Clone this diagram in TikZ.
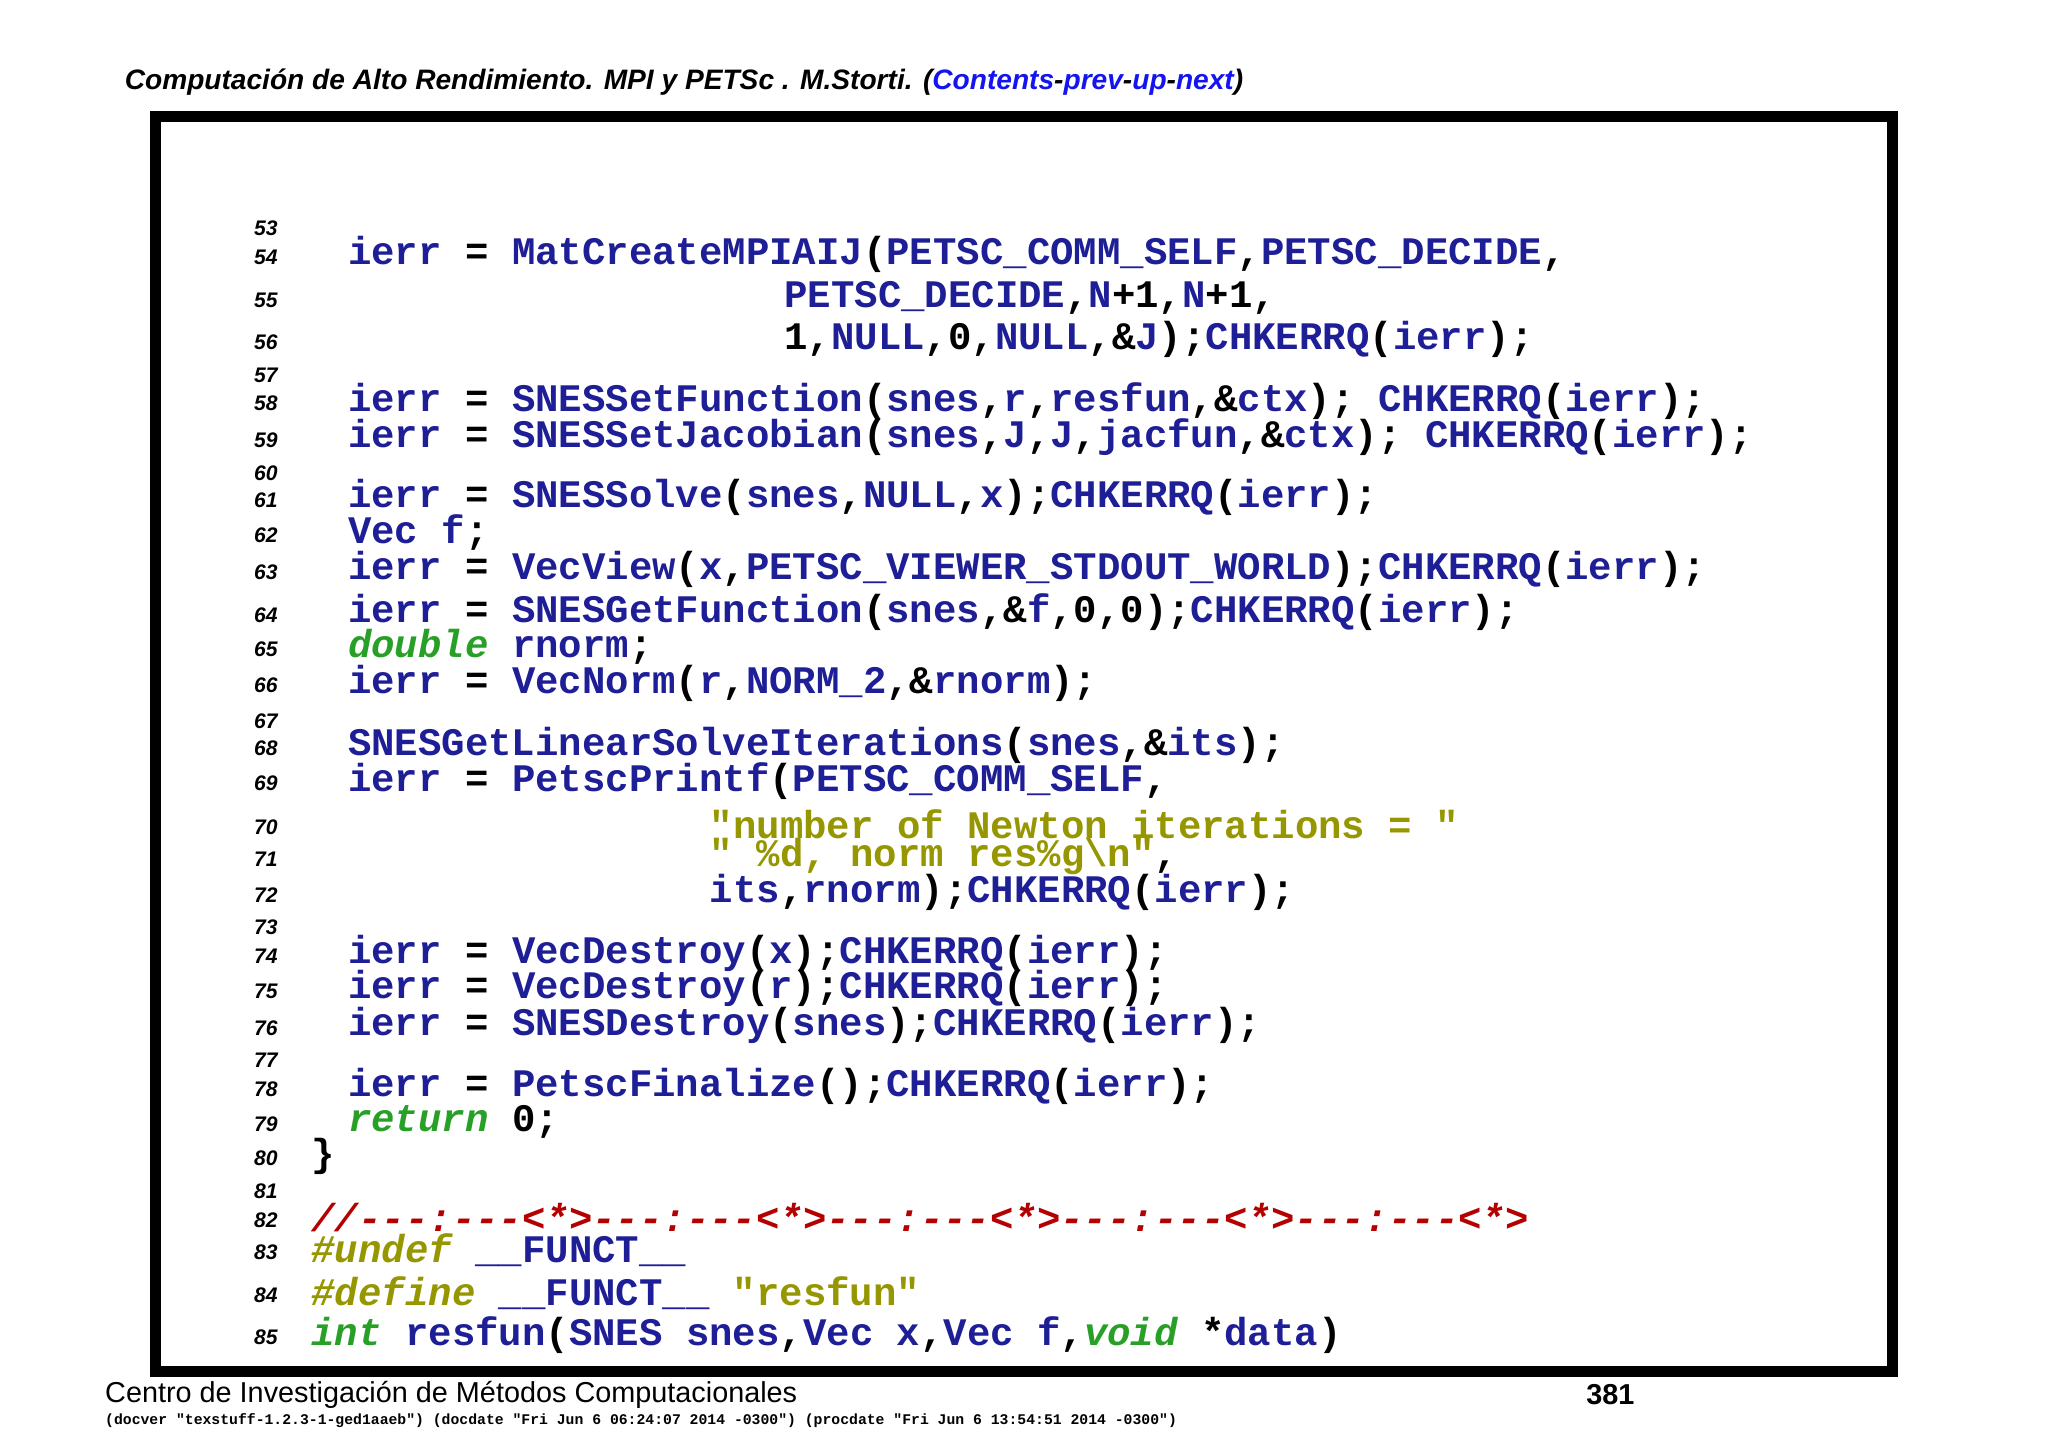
\documentclass[tikz,border=0pt]{standalone}
\usepackage{fontspec}
\setmainfont{Liberation Sans}
\setsansfont{Liberation Sans}
\setmonofont{Liberation Mono}
\definecolor{cblue}{RGB}{30,30,150}
\definecolor{cgreen}{RGB}{40,160,40}
\definecolor{colive}{RGB}{150,150,0}
\definecolor{cred}{RGB}{180,0,0}
\definecolor{lblue}{RGB}{20,20,240}
\newcommand\cb[1]{\textcolor{cblue}{#1}}
\newcommand\ck[1]{\textcolor{cgreen}{\itshape #1}}
\newcommand\cs[1]{\textcolor{colive}{#1}}
\newcommand\lb[1]{\textcolor{lblue}{#1}}
\tikzset{
  lnum/.style={anchor=east,font=\sffamily\bfseries\itshape\fontsize{6}{7}\selectfont},
  cline/.style={anchor=west,inner sep=0pt,font=\ttfamily\bfseries\fontsize{11.1}{12}\selectfont},
}
\begin{document}
\begin{tikzpicture}[x=0.013061cm,y=-0.013061cm]
\useasboundingbox (0,0) rectangle (1568,1108);
% header and frame
\node[anchor=west,inner sep=0pt,font=\sffamily\bfseries\itshape\fontsize{8}{9}\selectfont] (head) at (95,63)
  {Computación de Alto Rendimiento. MPI y PETSc . M.Storti. (\lb{Contents}-\lb{prev}-\lb{up}-\lb{next})};
\draw[line width=3.2pt] (119,89) rectangle (1449,1050);
% line numbers
\foreach \n/\y in {53/175,54/197,55/230,56/262,57/287,58/309,59/337,60/362,61/383,62/410,
  63/438,64/471,65/497,66/525,67/552,68/573,69/600,70/633,71/658,72/685,73/710,74/732,
  75/759,76/787,77/812,78/834,79/861,80/887,81/912,82/934,83/959,84/992,85/1024}
  \node[lnum] (l\n) at (222,\y) {\n};
% code
\node[cline] (c54) at (266,195) {\cb{ierr} = \cb{MatCreateMPIAIJ}(\cb{PETSC\_COMM\_SELF},\cb{PETSC\_DECIDE},};
\node[cline] (c55) at (600,228) {\cb{PETSC\_DECIDE},\cb{N}+1,\cb{N}+1,};
\node[cline] (c56) at (600,260) {1,\cb{NULL},0,\cb{NULL},\&\cb{J});\cb{CHKERRQ}(\cb{ierr});};
\node[cline] (c58) at (266,307) {\cb{ierr} = \cb{SNESSetFunction}(\cb{snes},\cb{r},\cb{resfun},\&\cb{ctx}); \cb{CHKERRQ}(\cb{ierr});};
\node[cline] (c59) at (266,335) {\cb{ierr} = \cb{SNESSetJacobian}(\cb{snes},\cb{J},\cb{J},\cb{jacfun},\&\cb{ctx}); \cb{CHKERRQ}(\cb{ierr});};
\node[cline] (c61) at (266,381) {\cb{ierr} = \cb{SNESSolve}(\cb{snes},\cb{NULL},\cb{x});\cb{CHKERRQ}(\cb{ierr});};
\node[cline] (c62) at (266,408) {\cb{Vec} \cb{f};};
\node[cline] (c63) at (266,436) {\cb{ierr} = \cb{VecView}(\cb{x},\cb{PETSC\_VIEWER\_STDOUT\_WORLD});\cb{CHKERRQ}(\cb{ierr});};
\node[cline] (c64) at (266,469) {\cb{ierr} = \cb{SNESGetFunction}(\cb{snes},\&\cb{f},0,0);\cb{CHKERRQ}(\cb{ierr});};
\node[cline] (c65) at (266,495) {\ck{double} \cb{rnorm};};
\node[cline] (c66) at (266,523) {\cb{ierr} = \cb{VecNorm}(\cb{r},\cb{NORM\_2},\&\cb{rnorm});};
\node[cline] (c68) at (266,571) {\cb{SNESGetLinearSolveIterations}(\cb{snes},\&\cb{its});};
\node[cline] (c69) at (266,598) {\cb{ierr} = \cb{PetscPrintf}(\cb{PETSC\_COMM\_SELF},};
\node[cline] (c70) at (543,631) {\cs{"number of Newton iterations = "}};
\node[cline] (c71) at (543,656) {\cs{" \%d, norm res\%g\textbackslash n"},};
\node[cline] (c72) at (543,683) {\cb{its},\cb{rnorm});\cb{CHKERRQ}(\cb{ierr});};
\node[cline] (c74) at (266,730) {\cb{ierr} = \cb{VecDestroy}(\cb{x});\cb{CHKERRQ}(\cb{ierr});};
\node[cline] (c75) at (266,757) {\cb{ierr} = \cb{VecDestroy}(\cb{r});\cb{CHKERRQ}(\cb{ierr});};
\node[cline] (c76) at (266,785) {\cb{ierr} = \cb{SNESDestroy}(\cb{snes});\cb{CHKERRQ}(\cb{ierr});};
\node[cline] (c78) at (266,832) {\cb{ierr} = \cb{PetscFinalize}();\cb{CHKERRQ}(\cb{ierr});};
\node[cline] (c79) at (266,859) {\ck{return} 0;};
\node[cline] (c80) at (238,885) {\}};
\node[cline] (c82) at (238,932) {\textcolor{cred}{\itshape //---:---<*>---:---<*>---:---<*>---:---<*>---:---<*>}};
\node[cline] (c83) at (238,957) {\textcolor{colive}{\itshape\#undef} \cb{\_\_FUNCT\_\_}};
\node[cline] (c84) at (238,990) {\textcolor{colive}{\itshape\#define} \cb{\_\_FUNCT\_\_} \cs{"resfun"}};
\node[cline] (c85) at (238,1022) {\ck{int} \cb{resfun}(\cb{SNES} \cb{snes},\cb{Vec} \cb{x},\cb{Vec} \cb{f},\ck{void} *\cb{data})};
% footer
\node[anchor=west,inner sep=0pt,font=\sffamily\fontsize{8.2}{10}\selectfont] (foot) at (80,1068)
  {Centro de Investigación de Métodos Computacionales};
\node[inner sep=0pt,font=\sffamily\bfseries\fontsize{8.2}{10}\selectfont] (page) at (1233,1068) {381};
\node[anchor=west,inner sep=0pt,font=\ttfamily\bfseries\fontsize{4.2}{5}\selectfont] (ver) at (80,1088)
  {(docver "texstuff-1.2.3-1-ged1aaeb") (docdate "Fri Jun 6 06:24:07 2014 -0300") (procdate "Fri Jun 6 13:54:51 2014 -0300")};
\end{tikzpicture}
\end{document}
